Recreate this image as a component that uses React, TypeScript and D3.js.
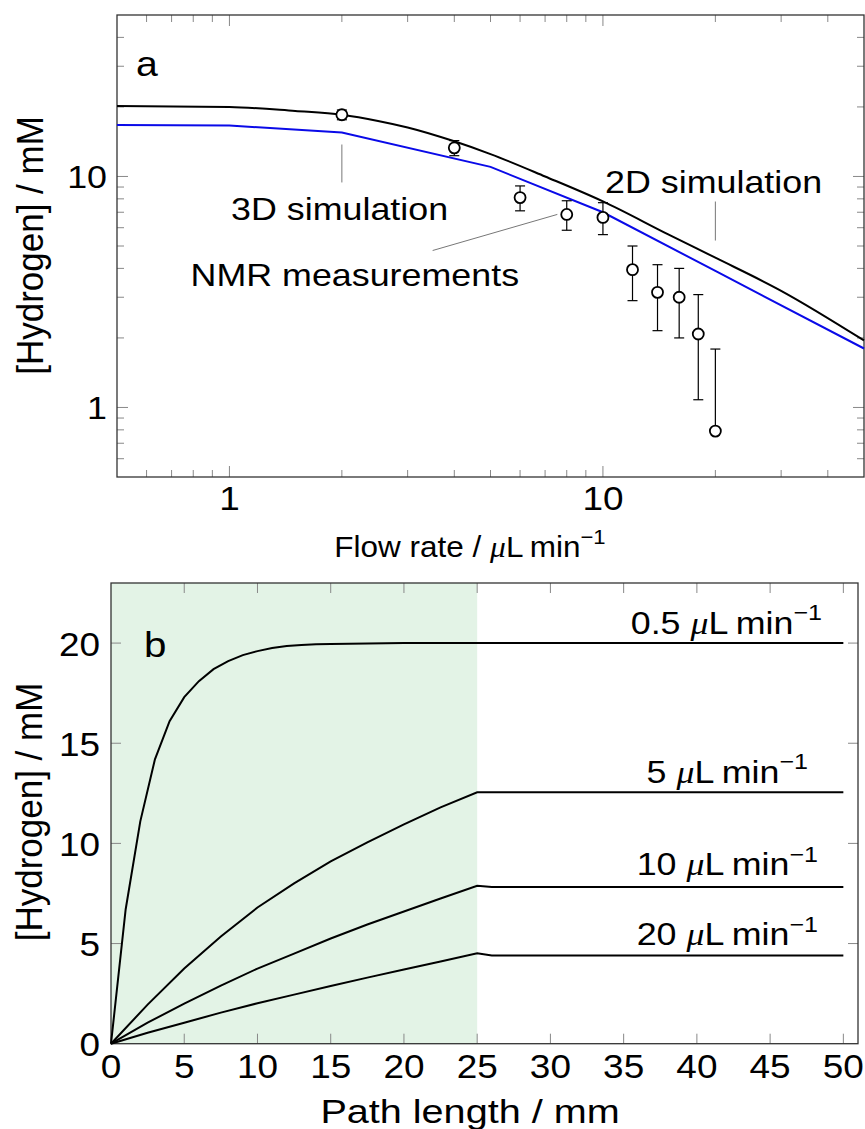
import * as d3 from 'd3';

// ---- panel a: hydrogen vs flow rate (log-log) ----
const flow2D = [0.5, 1, 1.5, 2, 2.5, 3, 4, 5, 7, 10, 15, 20, 30, 50];
const sim2D = [20.2, 20.0, 19.2, 18.5, 17.4, 16.3, 14.2, 12.5, 10.0, 7.8, 5.6, 4.45, 3.2, 1.95];
const flow3D = [0.5, 1, 2, 5, 10, 20, 50];
const sim3D = [16.7, 16.6, 15.5, 11.0, 7.0, 3.9, 1.8];
const nmrFlow = [2, 4, 6, 8, 10, 12, 14, 16, 18, 20];
const nmrH2 = [18.5, 13.3, 8.1, 6.85, 6.65, 3.95, 3.15, 3.0, 2.08, 0.79];
const nmrErr = [0.9, 1.0, 1.0, 1.0, 1.05, 1.05, 1.0, 1.0, 1.0, 1.0];
const logMajor = [1, 10];
const logMinor = [0.6, 0.7, 0.8, 0.9, 2, 3, 4, 5, 6, 7, 8, 9, 20, 30, 40];

// ---- panel b: hydrogen vs path length ----
const path05 = [0, 1, 2, 3, 4, 5, 6, 7, 8, 9, 10, 11, 12, 13, 14, 15, 20, 25, 50];
const h2at05 = [0, 6.7, 11.1, 14.2, 16.1, 17.3, 18.1, 18.7, 19.1, 19.4, 19.6, 19.75, 19.85, 19.9, 19.94, 19.96, 20, 20, 20];
const pathX = [0, 2.5, 5, 7.5, 10, 12.5, 15, 17.5, 20, 22.5, 25, 26, 50];
const h2at5 = [0, 1.95, 3.75, 5.35, 6.8, 8.0, 9.1, 10.05, 10.95, 11.8, 12.55, 12.55, 12.55];
const h2at10 = [0, 1.05, 2.0, 2.9, 3.75, 4.5, 5.25, 5.95, 6.6, 7.25, 7.88, 7.82, 7.82];
const h2at20 = [0, 0.55, 1.05, 1.55, 2.02, 2.45, 2.88, 3.3, 3.7, 4.1, 4.51, 4.4, 4.4];
const rateNames = ['0.5', '5', '10', '20'];
const pathTicks = [0, 5, 10, 15, 20, 25, 30, 35, 40, 45, 50];
const h2Ticks = [0, 5, 10, 15, 20];

const FONT = "'Liberation Sans', Arial, Helvetica, sans-serif";
const SX = 1.12; // glyphs in the reference are a bit wide
const TICK = '#888';
const FRAME = '#333';

function Txt({ x, y, size, anchor = 'start', rot = 0, sx = SX, children }: any) {
  return (
    <text
      transform={`translate(${x},${y}) scale(${sx},1)${rot ? ` rotate(${rot})` : ''}`}
      fontSize={size}
      textAnchor={anchor}
      fontFamily={FONT}
      fill="#000"
    >
      {children}
    </text>
  );
}

function Unit({ size }: { size: number }) {
  return (
    <>
      <tspan fontFamily="'Liberation Serif', serif" fontStyle="italic">μ</tspan>
      L{'\u2009'}min
      <tspan dy={-size * 0.42} fontSize={size * 0.7}>−1</tspan>
    </>
  );
}

export default function App() {
  // panel a scales
  const xA = d3.scaleLog().domain([0.5, 50]).range([117, 864]);
  const yA = d3.scaleLog().domain([0.5, 50]).range([477, 15]);
  // panel b scales
  const xB = d3.scaleLinear().domain([0, 51]).range([111, 858]);
  const yB = d3.scaleLinear().domain([0, 23]).range([1043.7, 583]);

  const lineA = d3.line<[number, number]>().x(d => xA(d[0])).y(d => yA(d[1]));
  const smoothA = d3.line<[number, number]>().x(d => xA(d[0])).y(d => yA(d[1])).curve(d3.curveMonotoneX);
  const lineB = d3.line<[number, number]>().x(d => xB(d[0])).y(d => yB(d[1]));

  const [ax0, ax1] = xA.range();
  const [ay0, ay1] = yA.range();
  const [bx0, bx1] = xB.range();
  const [by0, by1] = yB.range();

  const seriesB = [
    path05.map((x, i) => [x, h2at05[i]] as [number, number]),
    pathX.map((x, i) => [x, h2at5[i]] as [number, number]),
    pathX.map((x, i) => [x, h2at10[i]] as [number, number]),
    pathX.map((x, i) => [x, h2at20[i]] as [number, number]),
  ];
  // label placement: right end (px) and offset above the plateau (px)
  const labelPos = [
    { right: 822, up: 9.5 },
    { right: 808, up: 9.5 },
    { right: 818, up: 12 },
    { right: 818, up: 10.5 },
  ];

  const tickLen = (major: boolean) => (major ? 11 : 7);
  const logTicks = [...logMajor.map(v => [v, true] as const), ...logMinor.map(v => [v, false] as const)];

  return (
    <svg width={865} height={1129} style={{ position: 'absolute', left: 0, top: 0, background: '#fff' }}>
      {/* ===== panel a ===== */}
      <g>
        {logTicks.map(([v, m]) => (
          <g key={'xa' + v} stroke={TICK} strokeWidth={1}>
            <line x1={xA(v)} x2={xA(v)} y1={ay0} y2={ay0 - tickLen(m)} />
            <line x1={xA(v)} x2={xA(v)} y1={ay1} y2={ay1 + tickLen(m)} />
          </g>
        ))}
        {logTicks.map(([v, m]) => (
          <g key={'ya' + v} stroke={TICK} strokeWidth={1}>
            <line x1={ax0} x2={ax0 + tickLen(m)} y1={yA(v)} y2={yA(v)} />
            <line x1={ax1} x2={ax1 - tickLen(m)} y1={yA(v)} y2={yA(v)} />
          </g>
        ))}
        <rect x={ax0} y={ay1} width={ax1 - ax0} height={ay0 - ay1} fill="none" stroke={FRAME} strokeWidth={1.3} />

        {/* annotation leaders */}
        <g stroke="#777" strokeWidth={1}>
          <line x1={xA(2)} x2={xA(2)} y1={yA(13.75)} y2={yA(9.42)} />
          <line x1={xA(20)} x2={xA(20)} y1={yA(7.79)} y2={yA(5.28)} />
          <line x1={xA(3.5)} y1={yA(4.78)} x2={xA(7.55)} y2={yA(6.85)} />
        </g>

        <path d={lineA(flow3D.map((x, i) => [x, sim3D[i]]))!} fill="none" stroke="#0a0ae8" strokeWidth={2} />
        <path d={smoothA(flow2D.map((x, i) => [x, sim2D[i]]))!} fill="none" stroke="#000" strokeWidth={2} />

        {/* NMR points with error bars */}
        {nmrFlow.map((f, i) => {
          const v = nmrH2[i];
          const e = nmrErr[i];
          const cx = xA(f);
          const top = yA(v + e);
          const bot = v - e > 0 ? yA(v - e) : yA(v);
          return (
            <g key={'nmr' + f} stroke="#000" strokeWidth={1.2}>
              <line x1={cx} x2={cx} y1={top} y2={bot} />
              <line x1={cx - 5} x2={cx + 5} y1={top} y2={top} />
              {v - e > 0 && <line x1={cx - 5} x2={cx + 5} y1={bot} y2={bot} />}
              <circle cx={cx} cy={yA(v)} r={5.5} fill="#fff" strokeWidth={1.8} />
            </g>
          );
        })}

        {logMajor.map(v => (
          <Txt key={'xl' + v} x={xA(v)} y={510} size={33} anchor="middle">{d3.format('d')(v)}</Txt>
        ))}
        {logMajor.map(v => (
          <Txt key={'yl' + v} x={107} y={yA(v) + 11.5} size={32} anchor="end">{d3.format('d')(v)}</Txt>
        ))}

        <Txt x={136} y={76} size={35}>a</Txt>
        <Txt x={231} y={220} size={32}>3D simulation</Txt>
        <Txt x={605} y={192.5} size={32}>2D simulation</Txt>
        <Txt x={190.5} y={285.5} size={32}>NMR measurements</Txt>

        <Txt x={470} y={557} size={30} sx={1.05} anchor="middle">
          Flow rate / <Unit size={30} />
        </Txt>
        <Txt x={43} y={245.5} size={35} sx={1.03} anchor="middle" rot={-90}>[Hydrogen] / mM</Txt>
      </g>

      {/* ===== panel b ===== */}
      <g>
        <rect x={bx0} y={by1} width={xB(25) - bx0} height={by0 - by1} fill="#e3f3e6" />
        {pathTicks.filter(v => v > 0).map(v => (
          <g key={'xb' + v} stroke={TICK} strokeWidth={1}>
            <line x1={xB(v)} x2={xB(v)} y1={by0} y2={by0 - 10} />
            <line x1={xB(v)} x2={xB(v)} y1={by1} y2={by1 + 10} />
          </g>
        ))}
        {h2Ticks.filter(v => v > 0).map(v => (
          <g key={'yb' + v} stroke={TICK} strokeWidth={1}>
            <line x1={bx0} x2={bx0 + 10} y1={yB(v)} y2={yB(v)} />
            <line x1={bx1} x2={bx1 - 10} y1={yB(v)} y2={yB(v)} />
          </g>
        ))}
        <rect x={bx0} y={by1} width={bx1 - bx0} height={by0 - by1} fill="none" stroke={FRAME} strokeWidth={1.3} />

        {seriesB.map((s, i) => (
          <path key={'sb' + i} d={lineB(s)!} fill="none" stroke="#000" strokeWidth={2} />
        ))}

        {seriesB.map((s, i) => (
          <Txt key={'lb' + i} x={labelPos[i].right} y={yB(s[s.length - 1][1]) - labelPos[i].up} size={32} anchor="end">
            {rateNames[i]} <Unit size={32} />
          </Txt>
        ))}

        {pathTicks.map(v => (
          <Txt key={'xbl' + v} x={xB(v)} y={1078} size={33} anchor="middle">{v}</Txt>
        ))}
        {h2Ticks.map(v => (
          <Txt key={'ybl' + v} x={100} y={yB(v) + 12.5} size={33} anchor="end">{v}</Txt>
        ))}

        <Txt x={144} y={656.5} size={36}>b</Txt>
        <Txt x={470} y={1123} size={33} sx={1.2} anchor="middle">Path length / mm</Txt>
        <Txt x={42} y={812} size={35} sx={1.03} anchor="middle" rot={-90}>[Hydrogen] / mM</Txt>
      </g>
    </svg>
  );
}
